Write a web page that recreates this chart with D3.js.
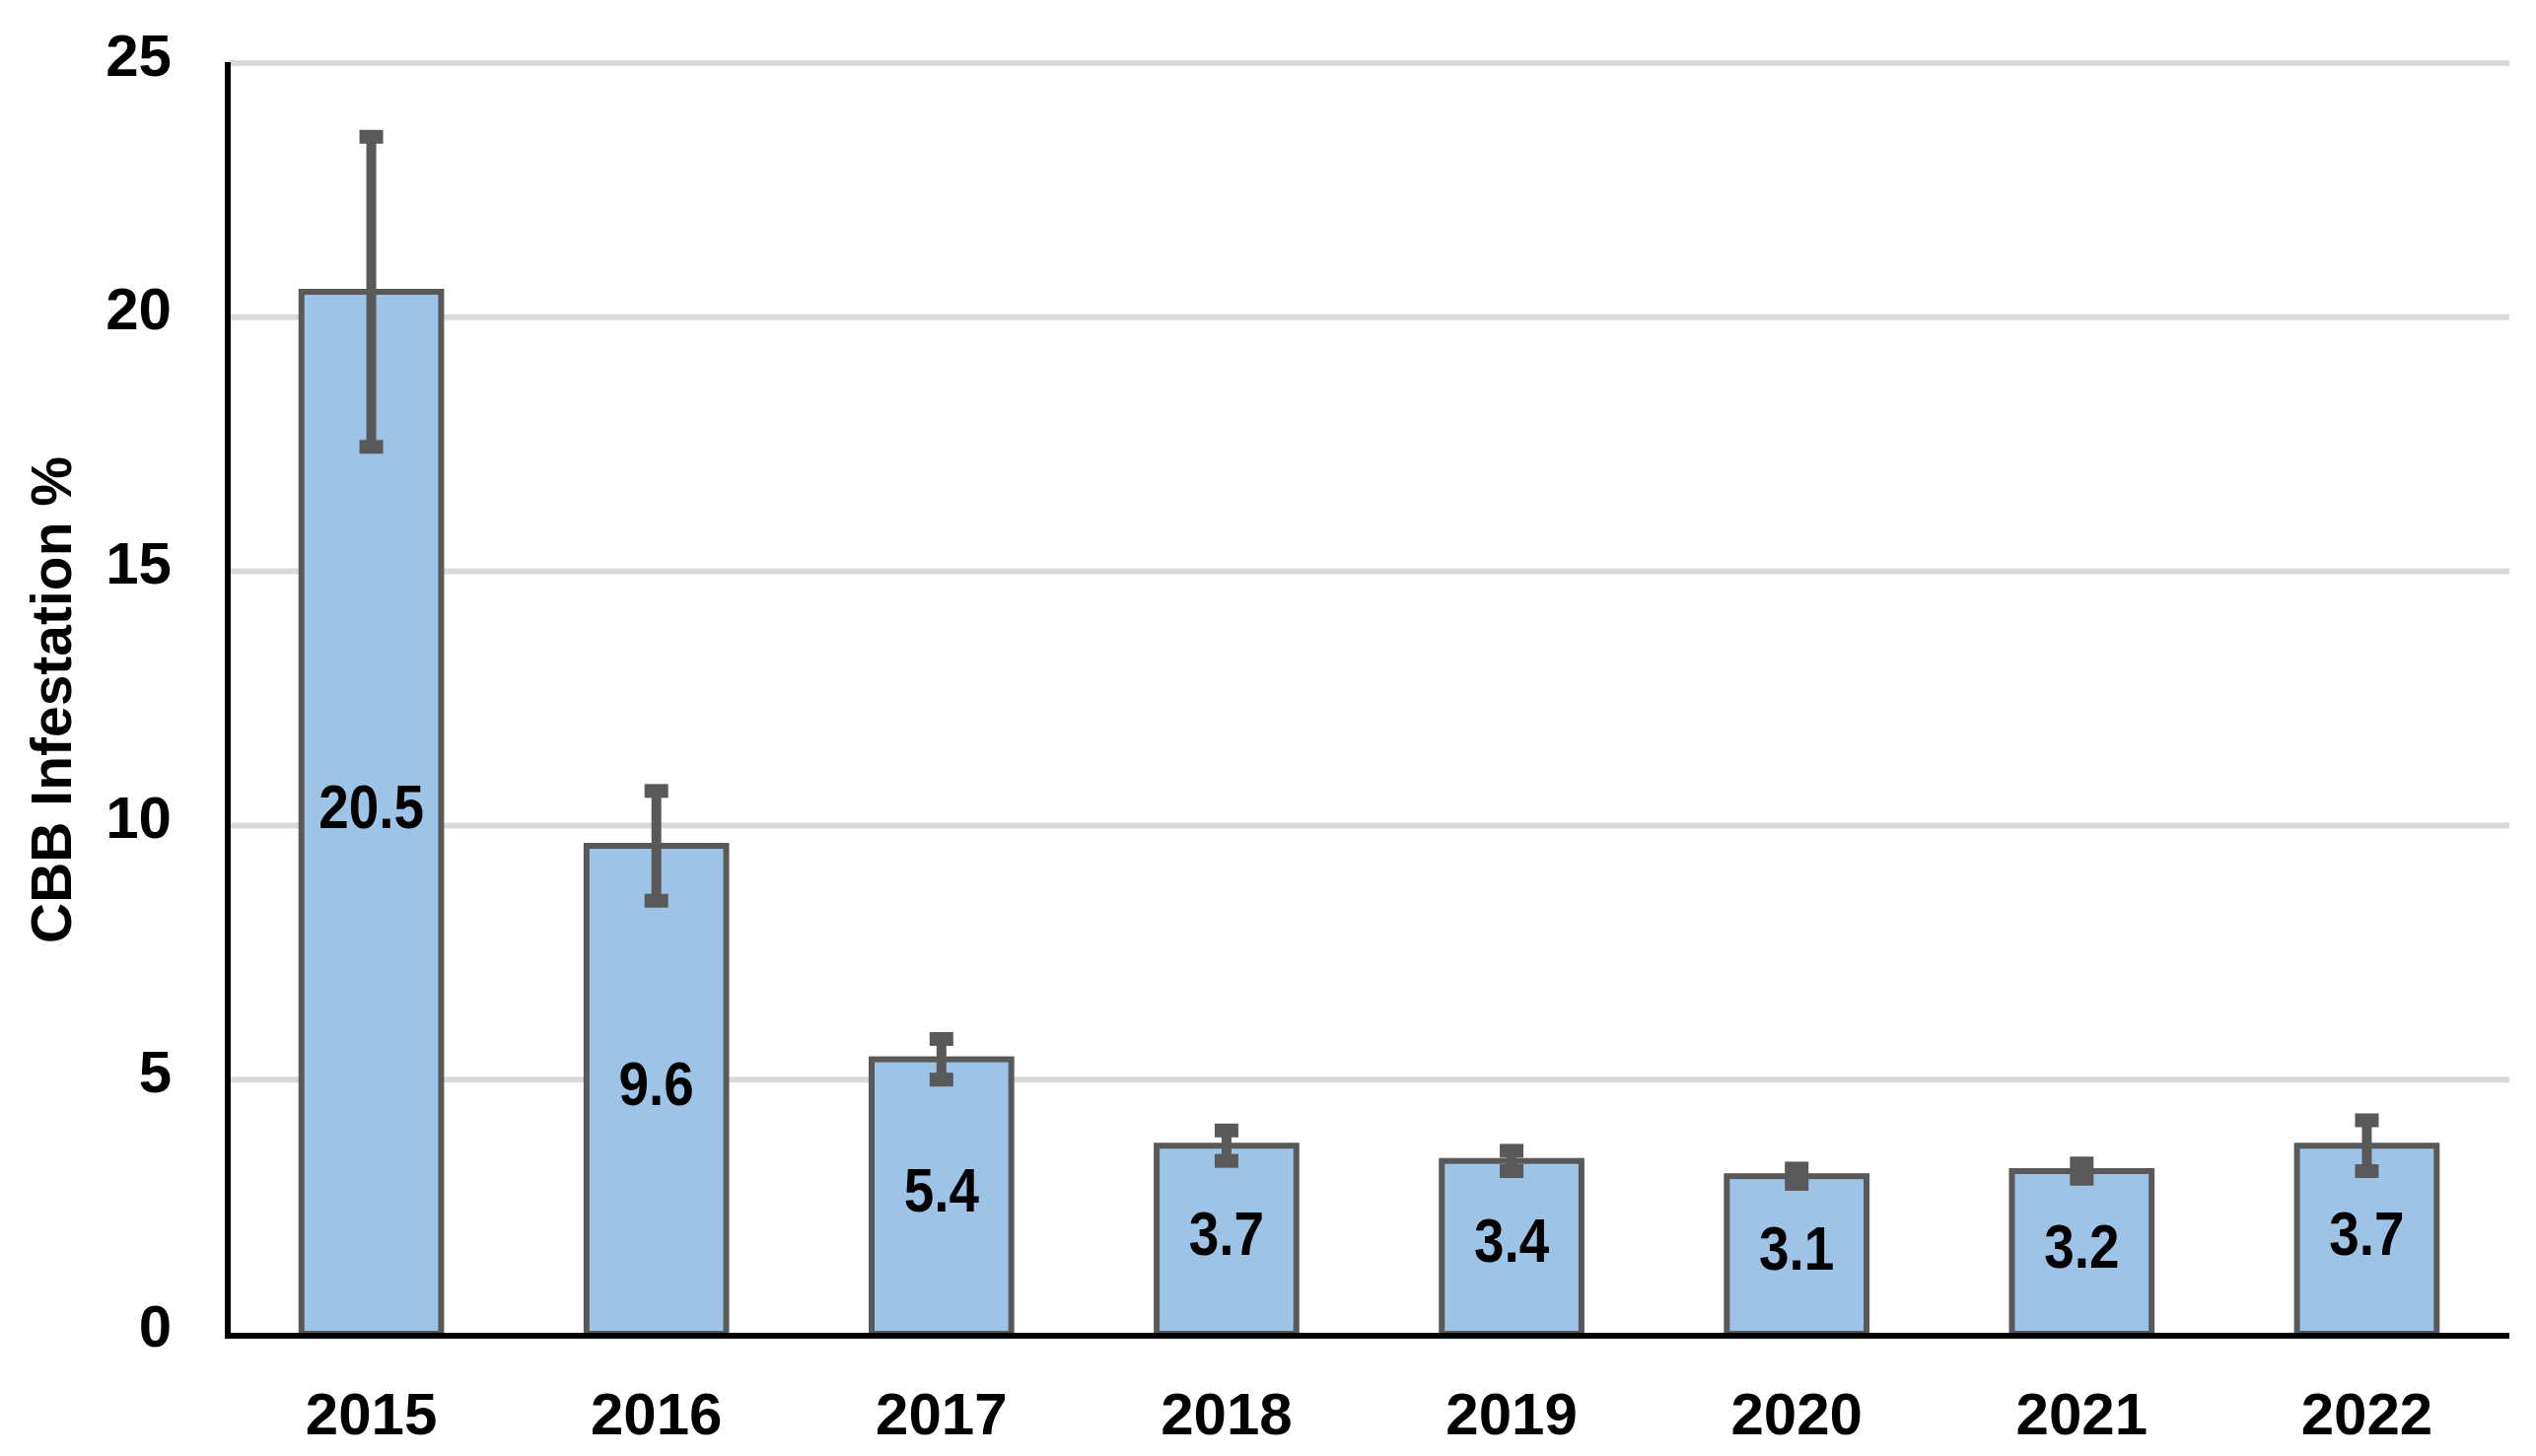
<!DOCTYPE html>
<html>
<head>
<meta charset="utf-8">
<script src="https://cdn.jsdelivr.net/npm/d3@7/dist/d3.min.js"></script>
<style>
  html, body { margin: 0; padding: 0; background: #ffffff; }
  svg { display: block; }
</style>
</head>
<body>
<svg id="chart" width="2572" height="1477"></svg>
<script>
// ---- data ----
const years = ["2015", "2016", "2017", "2018", "2019", "2020", "2021", "2022"];
const infestation = [20.5, 9.6, 5.4, 3.7, 3.4, 3.1, 3.2, 3.7];
const errors = [3.05, 1.08, 0.4, 0.3, 0.2, 0.15, 0.15, 0.5];
const yTicks = [0, 5, 10, 15, 20, 25];
const yTitle = "CBB Infestation %";

// ---- layout ----
const svg = d3.select("#chart");
const plotLeft = 232, plotRight = 2545, plotTop = 64, plotBottom = 1353;
const font = "'Liberation Sans', Arial, sans-serif";

const x = d3.scaleBand()
  .domain(years)
  .range([plotLeft, plotRight])
  .paddingInner(0.51)
  .paddingOuter(0.255);

const y = d3.scaleLinear().domain([0, 25]).range([plotBottom, plotTop]);

// gridlines
svg.append("g").selectAll("line")
  .data(yTicks.filter(t => t > 0))
  .join("line")
  .attr("x1", plotLeft).attr("x2", plotRight)
  .attr("y1", d => y(d)).attr("y2", d => y(d))
  .attr("stroke", "#d9d9d9").attr("stroke-width", 6);

const data = years.map((yr, i) => ({ yr, v: infestation[i], e: errors[i] }));

// bars
svg.append("g").selectAll("rect")
  .data(data)
  .join("rect")
  .attr("x", d => x(d.yr))
  .attr("width", x.bandwidth())
  .attr("y", d => y(d.v))
  .attr("height", d => y(0) - y(d.v))
  .attr("fill", "#9dc3e6")
  .attr("stroke", "#595959")
  .attr("stroke-width", 6);

// error bars
const eg = svg.append("g").attr("stroke", "#595959");
eg.selectAll("line.stem")
  .data(data)
  .join("line").attr("class", "stem")
  .attr("x1", d => x(d.yr) + x.bandwidth() / 2)
  .attr("x2", d => x(d.yr) + x.bandwidth() / 2)
  .attr("y1", d => y(d.v + d.e))
  .attr("y2", d => y(d.v - d.e))
  .attr("stroke-width", 10);
const caps = data.flatMap(d => [{ yr: d.yr, val: d.v + d.e }, { yr: d.yr, val: d.v - d.e }]);
eg.selectAll("line.cap")
  .data(caps)
  .join("line").attr("class", "cap")
  .attr("x1", d => x(d.yr) + x.bandwidth() / 2 - 12)
  .attr("x2", d => x(d.yr) + x.bandwidth() / 2 + 12)
  .attr("y1", d => y(d.val))
  .attr("y2", d => y(d.val))
  .attr("stroke-width", 14);

// data labels (slightly condensed, like the original narrow face)
svg.append("g").selectAll("text")
  .data(data)
  .join("text")
  .attr("transform", d => `translate(${x(d.yr) + x.bandwidth() / 2},${(y(d.v) + y(0)) / 2 + 15}) scale(0.87,1)`)
  .attr("text-anchor", "middle")
  .attr("font-family", font)
  .attr("font-weight", "bold")
  .attr("font-size", 63)
  .attr("fill", "#000")
  .text(d => d.v.toFixed(1));

// y axis
const yAxis = d3.axisLeft(y).tickValues(yTicks).tickSize(0).tickPadding(0).tickFormat(d3.format("d"));
const yg = svg.append("g").attr("transform", `translate(${plotLeft - 1},0)`).call(yAxis);
yg.select(".domain").attr("stroke", "#000").attr("stroke-width", 6)
  .attr("d", `M0,${plotTop - 1}V${plotBottom + 3}`);
yg.selectAll(".tick text")
  .attr("x", -57)
  .attr("dy", null)
  .attr("y", 12)
  .attr("font-family", font)
  .attr("font-weight", "bold")
  .attr("font-size", 60)
  .attr("fill", "#000");

// x axis
const xAxis = d3.axisBottom(x).tickSize(0).tickPadding(0);
const xg = svg.append("g").attr("transform", `translate(0,${plotBottom + 2})`).call(xAxis);
xg.select(".domain").attr("stroke", "#000").attr("stroke-width", 6)
  .attr("d", `M${plotLeft - 4},0H${plotRight}`);
xg.selectAll(".tick text")
  .attr("dy", null)
  .attr("y", 100)
  .attr("font-family", font)
  .attr("font-weight", "bold")
  .attr("font-size", 60)
  .attr("fill", "#000");

// y title
svg.append("text")
  .attr("transform", "translate(72,710) rotate(-90)")
  .attr("text-anchor", "middle")
  .attr("font-family", font)
  .attr("font-weight", "bold")
  .attr("font-size", 57)
  .attr("fill", "#000")
  .text(yTitle);
</script>
</body>
</html>
